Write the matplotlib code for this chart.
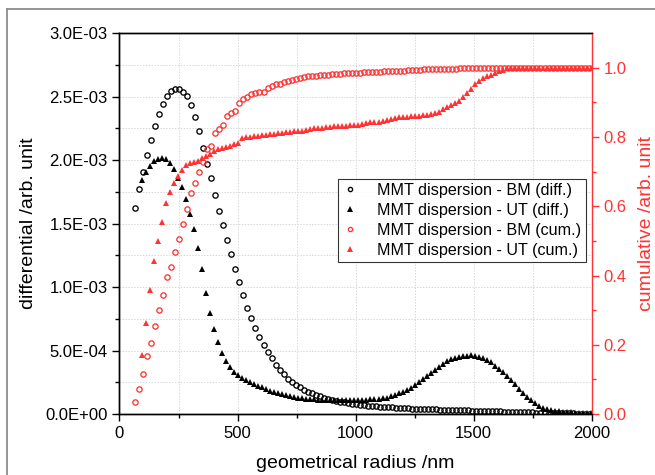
import matplotlib
matplotlib.use("Agg")
import matplotlib.pyplot as plt
from matplotlib.ticker import MultipleLocator, FuncFormatter
from matplotlib.lines import Line2D

plt.rcParams['font.family'] = ['Liberation Sans', 'DejaVu Sans']

# ---- data ----
x_bm = [66, 83, 100, 117, 134, 151, 168, 185, 202, 219, 236, 253, 270, 287, 304, 321, 338, 355, 372, 389,
        406, 423, 440, 457, 474, 491, 508, 525, 542, 559, 576, 593, 610, 627, 644, 661, 678, 695, 712, 729,
        746, 763, 780, 797, 814, 831, 848, 865, 882, 899, 916, 933, 950, 967, 984, 1001, 1018, 1035, 1052, 1069,
        1086, 1103, 1120, 1137, 1154, 1171, 1188, 1205, 1222, 1239, 1256, 1273, 1290, 1307, 1324, 1341, 1358,
        1375, 1392, 1409, 1426, 1443, 1460, 1477, 1494, 1511, 1528, 1545, 1562, 1579, 1596, 1613, 1630, 1647,
        1664, 1681, 1698, 1715, 1732, 1749, 1766, 1783, 1800, 1817, 1834, 1851, 1868, 1885, 1902, 1919, 1936,
        1953, 1970, 1987]

bm_diff = [1.62, 1.77, 1.905, 2.04, 2.157, 2.268, 2.362, 2.439, 2.504, 2.543, 2.559, 2.559, 2.541, 2.502,
           2.435, 2.341, 2.228, 2.10, 1.974, 1.856, 1.724, 1.601, 1.488, 1.368, 1.258, 1.144, 1.037, 0.937,
           0.837, 0.753, 0.680, 0.609, 0.543, 0.486, 0.438, 0.388, 0.349, 0.312, 0.278, 0.255,
           0.232, 0.211, 0.192, 0.176, 0.162, 0.149, 0.138, 0.128, 0.119, 0.111, 0.104, 0.097, 0.091, 0.086,
           0.081, 0.077, 0.073, 0.069, 0.066, 0.063, 0.060, 0.058, 0.056, 0.054, 0.052, 0.050, 0.048, 0.046,
           0.045, 0.043, 0.042, 0.041, 0.040, 0.038, 0.037, 0.036, 0.035, 0.034, 0.033, 0.032, 0.031, 0.030,
           0.029, 0.028, 0.027, 0.026, 0.025, 0.024, 0.023, 0.022, 0.021, 0.020, 0.019, 0.018, 0.017, 0.016,
           0.015, 0.014, 0.013, 0.012, 0.011, 0.010, 0.009, 0.008, 0.008, 0.007, 0.006, 0.006, 0.005, 0.005,
           0.004, 0.004, 0.003, 0.003]  # x 1e-3

bm_cum = [0.036, 0.072, 0.116, 0.167, 0.206, 0.254, 0.300, 0.343, 0.395, 0.424, 0.468, 0.504, 0.550, 0.593,
          0.637, 0.666, 0.699, 0.728, 0.766, 0.774, 0.811, 0.822, 0.834, 0.861, 0.868, 0.874, 0.899, 0.910,
          0.916, 0.923, 0.926, 0.930, 0.931, 0.942, 0.947, 0.952, 0.954, 0.958, 0.962, 0.965, 0.968, 0.971,
          0.973, 0.975, 0.976, 0.977, 0.978, 0.979, 0.980, 0.981, 0.982, 0.983, 0.984, 0.984, 0.985, 0.986,
          0.986, 0.987, 0.988, 0.988, 0.989, 0.989, 0.990, 0.990, 0.991, 0.991, 0.992, 0.992, 0.993, 0.993,
          0.994, 0.994, 0.995, 0.995, 0.995, 0.996, 0.996, 0.996, 0.997, 0.997, 0.997, 0.998, 0.998, 0.998,
          0.998, 0.999, 0.999, 0.999, 0.999, 0.999, 1.0, 1.0, 1.0, 1.0, 1.0, 1.0, 1.0, 1.0, 1.0, 1.0, 1.0,
          1.0, 1.0, 1.0, 1.0, 1.0, 1.0, 1.0, 1.0, 1.0, 1.0, 1.0, 1.0, 1.0]

x_ut = [94, 111, 128, 145, 162, 179, 196, 213, 230, 247, 264, 281, 298, 315, 332, 349, 366, 383, 400, 417,
        434, 451, 468, 485, 502, 519, 536, 553, 570, 587, 604, 621, 638, 655, 672, 689, 706, 723, 740, 757,
        774, 791, 808, 825, 842, 859, 876, 893, 910, 927, 944, 961, 978, 995, 1012, 1029, 1046, 1063, 1080,
        1097, 1114, 1131, 1148, 1165, 1182, 1199, 1216, 1233, 1250, 1267, 1284, 1301, 1318, 1335, 1352, 1369,
        1386, 1403, 1420, 1437, 1454, 1471, 1488, 1505, 1522, 1539, 1556, 1573, 1590, 1607, 1624, 1641, 1658,
        1675, 1692, 1709, 1726, 1743, 1760, 1777, 1794, 1811, 1828, 1845, 1862, 1879, 1896, 1913, 1930, 1947,
        1964, 1981, 1998]

ut_diff = [1.845, 1.908, 1.958, 1.992, 2.013, 2.018, 2.008, 1.979, 1.929, 1.861, 1.787, 1.693, 1.580, 1.454,
           1.309, 1.139, 0.955, 0.798, 0.667, 0.569, 0.483, 0.420, 0.370, 0.333, 0.307, 0.286, 0.270, 0.254,
           0.239, 0.223, 0.210, 0.197, 0.184, 0.173, 0.163, 0.154, 0.146, 0.138, 0.133, 0.128, 0.124, 0.121,
           0.118, 0.116, 0.114, 0.112, 0.110, 0.109, 0.108, 0.108, 0.109, 0.110, 0.110, 0.110, 0.111, 0.112,
           0.113, 0.115, 0.117, 0.120, 0.124, 0.130, 0.139, 0.150, 0.162, 0.176, 0.191, 0.208, 0.230, 0.253,
           0.276, 0.300, 0.323, 0.344, 0.370, 0.394, 0.414, 0.430, 0.440, 0.449, 0.457, 0.461, 0.462, 0.459,
           0.452, 0.440, 0.425, 0.406, 0.381, 0.355, 0.329, 0.298, 0.265, 0.233, 0.200, 0.167, 0.135, 0.107,
           0.085, 0.065, 0.050, 0.039, 0.031, 0.025, 0.021, 0.017, 0.014, 0.012, 0.010, 0.008, 0.007, 0.006,
           0.005]  # x 1e-3

ut_cum = [0.170, 0.264, 0.358, 0.442, 0.500, 0.554, 0.608, 0.641, 0.668, 0.687, 0.705, 0.720, 0.726, 0.729,
          0.731, 0.738, 0.746, 0.752, 0.759, 0.764, 0.769, 0.772, 0.775, 0.779, 0.782, 0.796, 0.799, 0.801,
          0.803, 0.803, 0.805, 0.807, 0.809, 0.810, 0.811, 0.813, 0.814, 0.815, 0.816, 0.816, 0.817, 0.819,
          0.822, 0.825, 0.826, 0.827, 0.828, 0.830, 0.831, 0.832, 0.833, 0.833, 0.834, 0.835, 0.836, 0.837,
          0.840, 0.842, 0.843, 0.844, 0.845, 0.848, 0.852, 0.855, 0.857, 0.858, 0.859, 0.860, 0.861, 0.862,
          0.863, 0.864, 0.866, 0.868, 0.872, 0.880, 0.887, 0.893, 0.898, 0.905, 0.915, 0.928, 0.940, 0.952,
          0.962, 0.969, 0.975, 0.980, 0.985, 0.990, 0.994, 0.998, 1.0, 1.0, 1.0, 1.0, 1.0, 1.0, 1.0, 1.0,
          1.0, 1.0, 1.0, 1.0, 1.0, 1.0, 1.0, 1.0, 1.0, 1.0, 1.0, 1.0, 1.0]

labels = ["MMT dispersion - BM (diff.)", "MMT dispersion - UT (diff.)",
          "MMT dispersion - BM (cum.)", "MMT dispersion - UT (cum.)"]

RED = '#ff3333'

def pair(x, y):
    n = min(len(x), len(y))
    return x[:n], y[:n]

fig = plt.figure(figsize=(6.55, 4.75), dpi=100)
ax = fig.add_axes([0.1824, 0.1284, 0.7210, 0.8015])
ax2 = ax.twinx()

xb, yb = pair(x_bm, [v * 1e-3 for v in bm_diff])
xu, yu = pair(x_ut, [v * 1e-3 for v in ut_diff])
xbc, ybc = pair(x_bm, bm_cum)
xuc, yuc = pair(x_ut, ut_cum)

h1, = ax.plot(xb, yb, 'o', ls='none', mfc='none', mec='black', ms=3.8, mew=0.95, zorder=3)
h2, = ax.plot(xu, yu, '^', ls='none', color='black', ms=5.0, mew=0, zorder=3)
h3, = ax2.plot(xbc, ybc, 'o', ls='none', mfc='none', mec=RED, ms=3.8, mew=0.95, zorder=3)
h4, = ax2.plot(xuc, yuc, '^', ls='none', color=RED, ms=5.0, mew=0, zorder=3)

ax.set_xlim(0, 2000)
ax.set_ylim(0, 3e-3)
ax2.set_ylim(0, 1.0995)

ax.xaxis.set_major_locator(MultipleLocator(500))
ax.xaxis.set_minor_locator(MultipleLocator(250))
ax.yaxis.set_major_locator(MultipleLocator(0.5e-3))
ax.yaxis.set_minor_locator(MultipleLocator(0.25e-3))
ax.yaxis.set_major_formatter(FuncFormatter(lambda v, p: f"{v:.1E}"))
ax2.yaxis.set_major_locator(MultipleLocator(0.2))
ax2.yaxis.set_minor_locator(MultipleLocator(0.1))
ax2.yaxis.set_major_formatter(FuncFormatter(lambda v, p: f"{v:.1f}"))

ax.grid(True, which='both', color='#d8d8d8', linestyle=(0, (1.5, 1.5)), linewidth=0.7)
ax.set_axisbelow(True)

ax.tick_params(axis='both', which='major', direction='out', length=5, width=1.0, labelsize=12, colors='black')
ax.tick_params(axis='both', which='minor', direction='out', length=3, width=1.0)
ax2.tick_params(axis='y', which='major', direction='out', length=5, width=1.0, labelsize=12,
                colors=RED)
ax2.tick_params(axis='y', which='minor', direction='out', length=3, width=1.0, colors=RED)

for s in ['left', 'bottom', 'top']:
    ax.spines[s].set_linewidth(1.0)
    ax2.spines[s].set_linewidth(1.0)
ax.spines['right'].set_visible(False)
ax2.spines['right'].set_color(RED)
ax2.spines['right'].set_linewidth(1.0)

ax.set_xlabel("geometrical radius /nm", fontsize=14, labelpad=10)
ax.set_ylabel("differential /arb. unit", fontsize=14, labelpad=6)
ax2.set_ylabel("cumulative /arb. unit", fontsize=14, color=RED, labelpad=8)

leg = ax2.legend([h1, h2, h3, h4], labels, loc='upper left', bbox_to_anchor=(0.4627, 0.6173),
                 borderaxespad=0, fontsize=11.6, frameon=True, fancybox=False, markerscale=0.8,
                 handlelength=1.0, handletextpad=1.2, labelspacing=0.3, borderpad=0.25)
leg.get_frame().set_edgecolor('black')
leg.get_frame().set_linewidth(0.8)

# outer grey frame
fig.add_artist(Line2D([7 / 655, 7 / 655], [0, 1 - 9 / 475], transform=fig.transFigure,
                      color='#8c8c8c', lw=1.3))
fig.add_artist(Line2D([7 / 655, 1], [1 - 9 / 475, 1 - 9 / 475], transform=fig.transFigure,
                      color='#8c8c8c', lw=1.3))

fig.savefig("out.png", dpi=100)
